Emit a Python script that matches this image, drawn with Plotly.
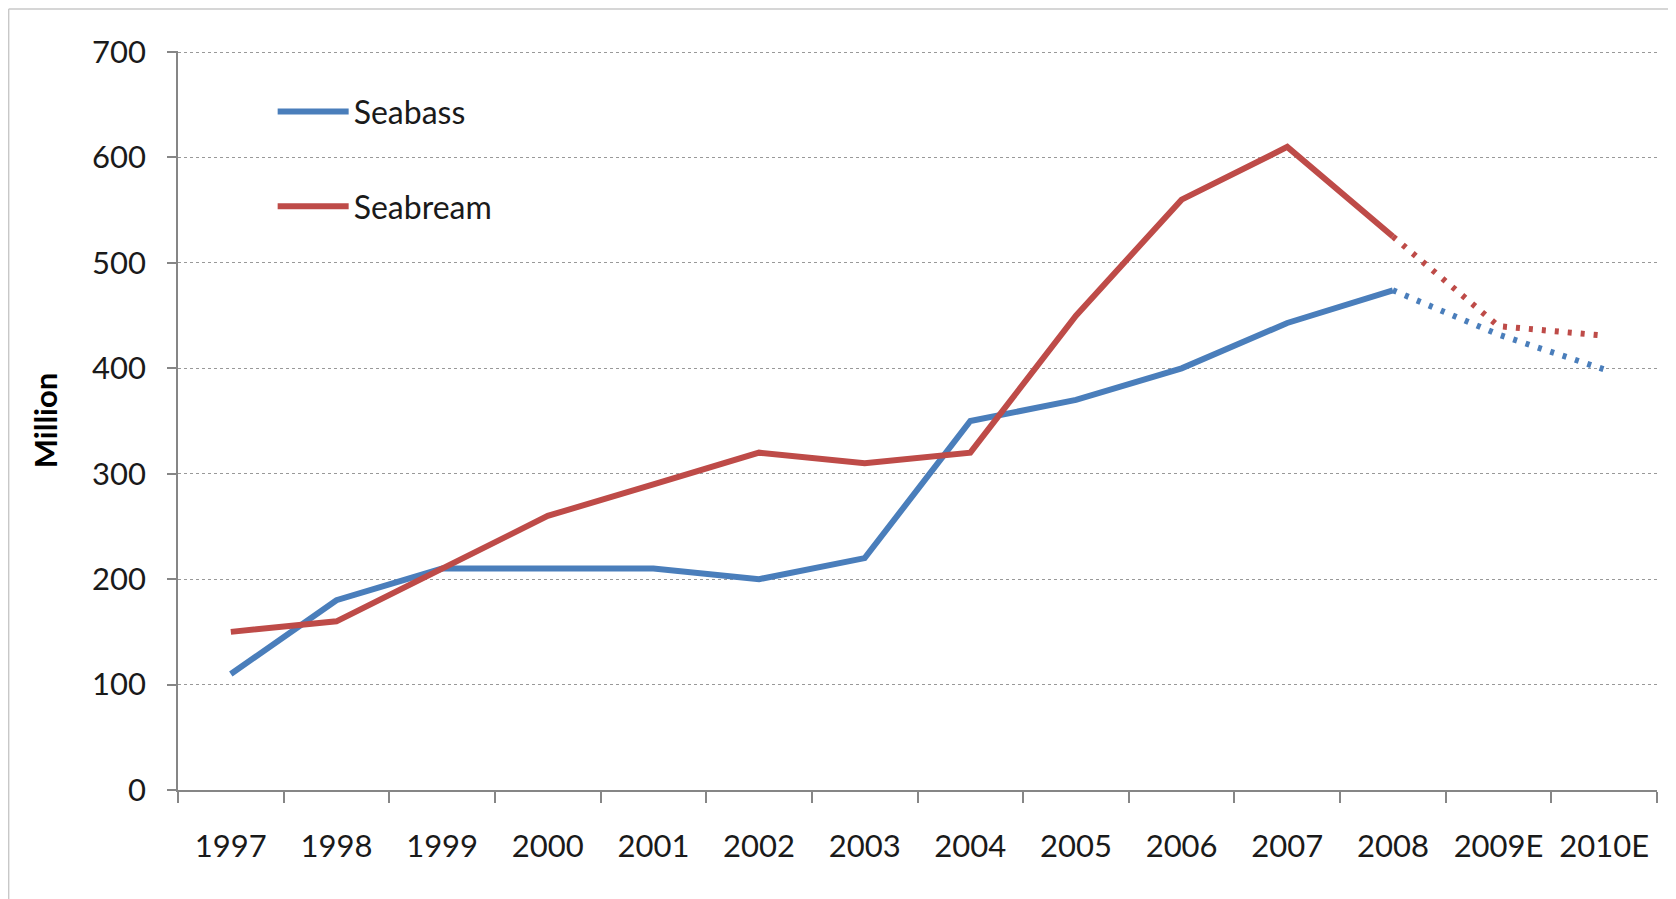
import plotly.graph_objects as go

categories = ["1997", "1998", "1999", "2000", "2001", "2002", "2003", "2004",
              "2005", "2006", "2007", "2008", "2009E", "2010E"]
seabass = [110, 180, 210, 210, 210, 200, 220, 350, 370, 400, 443, 474, 432, 399]
seabream = [150, 160, 210, 260, 290, 320, 310, 320, 450, 560, 610, 525, 440, 431]
n_actual = 12  # 1997..2008 are actual, the rest estimates

BLUE = "#4A7EBB"
RED = "#BE4B48"
FONT = "Lato"

fig = go.Figure()
for name, vals, col, grp in [("Seabass", seabass, BLUE, "a"), ("Seabream", seabream, RED, "b")]:
    fig.add_trace(go.Scatter(
        x=categories[:n_actual], y=vals[:n_actual], name=name, mode="lines",
        line=dict(color=col, width=6), legendgroup=grp, showlegend=True))
    fig.add_trace(go.Scatter(
        x=categories[n_actual - 1:], y=vals[n_actual - 1:], name=name, mode="lines",
        line=dict(color=col, width=6, dash="4px,9px"), legendgroup=grp, showlegend=False))

fig.update_layout(
    width=1676, height=899,
    margin=dict(l=170, r=27, t=43, b=117),
    paper_bgcolor="white", plot_bgcolor="white",
    font=dict(family=FONT, size=31, color="#1a1a1a"),
    showlegend=True,
    legend=dict(x=0.064, y=0.955, xanchor="left", yanchor="top",
                bgcolor="rgba(0,0,0,0)", font=dict(size=32, family=FONT),
                traceorder="grouped", tracegroupgap=50, itemwidth=71),
    xaxis=dict(type="category", categoryorder="array", categoryarray=categories,
               range=[-0.5, len(categories) - 0.5],
               showline=True, linecolor="#868686", linewidth=2,
               ticks="outside", tickson="boundaries", ticklen=11, tickcolor="#868686", tickwidth=1.5,
               ticklabelstandoff=28, showgrid=False,
               tickfont=dict(size=31, family=FONT)),
    yaxis=dict(range=[0, 701], tickvals=[0, 100, 200, 300, 400, 500, 600, 700],
               showline=True, linecolor="#868686", linewidth=1.5,
               ticks="outside", ticklen=9, tickcolor="#868686", tickwidth=1.5,
               ticklabelstandoff=15,
               showgrid=True, gridcolor="#999999", gridwidth=1, griddash="dot",
               zeroline=False,
               tickfont=dict(size=31, family=FONT),
               title=dict(text="<b>Million</b>", font=dict(size=31, family=FONT, color="#000"),
                          standoff=25)),
    shapes=[dict(type="line", xref="paper", yref="paper",
                 x0=-0.1145, x1=1.02, y0=1.057, y1=1.057,
                 line=dict(color="#c8c8c8", width=1.5)),
            dict(type="line", xref="paper", yref="paper",
                 x0=-0.1145, x1=-0.1145, y0=1.057, y1=-0.2,
                 line=dict(color="#c8c8c8", width=1.5))],
)

fig.write_html("out.html")
